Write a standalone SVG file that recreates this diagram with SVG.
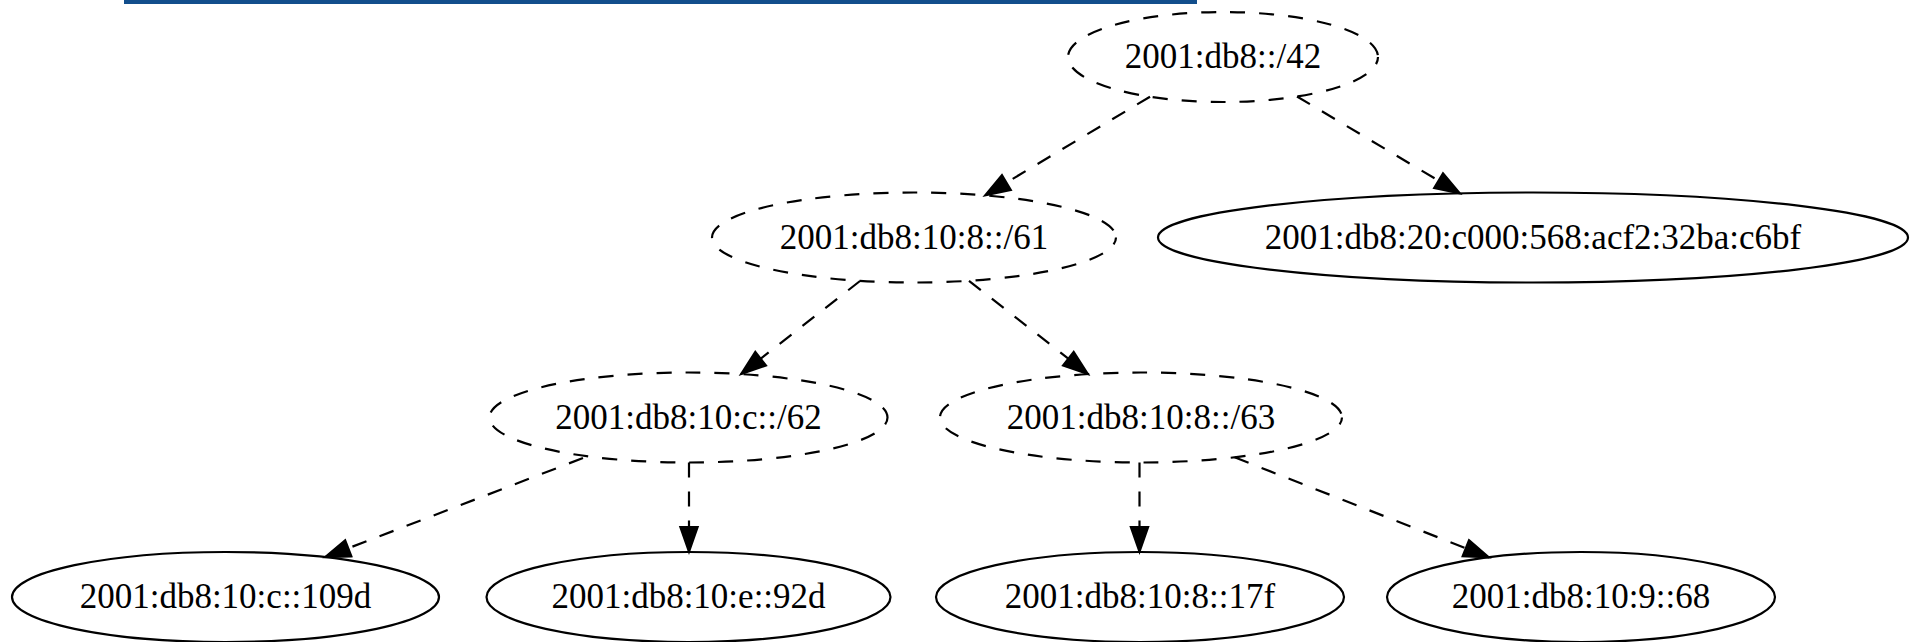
<svg xmlns="http://www.w3.org/2000/svg" width="1911" height="642" viewBox="0 0 1911 642">
<style>
.n ellipse{fill:none;stroke:#000;stroke-width:2.2}
.d ellipse{stroke-dasharray:15,14;stroke-dashoffset:7.5}
text{font-family:"Liberation Serif","Times New Roman",serif;font-size:35px;fill:#000;text-anchor:middle}
#edges line{stroke:#000;stroke-width:2.2;stroke-dasharray:15,14;fill:none;marker-end:url(#arr)}
</style>
<defs>
<marker id="arr" markerUnits="userSpaceOnUse" markerWidth="32" markerHeight="24" viewBox="-2 -12 32 24" refX="25" refY="0" orient="auto" overflow="visible">
<path d="M0,-8.75 L25,0 L0,8.75 Z" fill="#000" stroke="#000" stroke-width="2" stroke-linejoin="miter"/>
</marker>
</defs>
<rect x="124" y="0" width="1073" height="4" fill="#124e8c"/>
<g id="edges">
<line x1="1150" y1="96.7" x2="985" y2="195.4"/>
<line x1="1297" y1="96.5" x2="1460" y2="193.4"/>
<line x1="860" y1="281" x2="741" y2="374.1"/>
<line x1="969" y1="280.8" x2="1088" y2="374.1"/>
<line x1="583" y1="458" x2="325" y2="557.2"/>
<line x1="689" y1="462.5" x2="689" y2="552"/>
<line x1="1139.5" y1="462.5" x2="1139.5" y2="552"/>
<line x1="1234.6" y1="457.3" x2="1489" y2="557.4"/>
</g>
<g id="n42" class="n d"><ellipse cx="1223" cy="57" rx="155" ry="45"/><text x="1223" y="68">2001:db8::/42</text></g>
<g id="n61" class="n d"><ellipse cx="914" cy="237.5" rx="202" ry="45"/><text x="914" y="248.5">2001:db8:10:8::/61</text></g>
<g id="nc6bf" class="n"><ellipse cx="1533" cy="237.5" rx="375" ry="45"/><text x="1533" y="248.5">2001:db8:20:c000:568:acf2:32ba:c6bf</text></g>
<g id="n62" class="n d"><ellipse cx="688.5" cy="417.5" rx="199" ry="45"/><text x="688.5" y="428.5">2001:db8:10:c::/62</text></g>
<g id="n63" class="n d"><ellipse cx="1141" cy="417.5" rx="201" ry="45"/><text x="1141" y="428.5">2001:db8:10:8::/63</text></g>
<g id="n109d" class="n"><ellipse cx="225.5" cy="597" rx="213.5" ry="45"/><text x="225.5" y="608">2001:db8:10:c::109d</text></g>
<g id="n92d" class="n"><ellipse cx="688.5" cy="597" rx="202" ry="45"/><text x="688.5" y="608">2001:db8:10:e::92d</text></g>
<g id="n17f" class="n"><ellipse cx="1140" cy="597" rx="204" ry="45"/><text x="1140" y="608">2001:db8:10:8::17f</text></g>
<g id="n68" class="n"><ellipse cx="1581" cy="597" rx="194" ry="45"/><text x="1581" y="608">2001:db8:10:9::68</text></g>
</svg>
